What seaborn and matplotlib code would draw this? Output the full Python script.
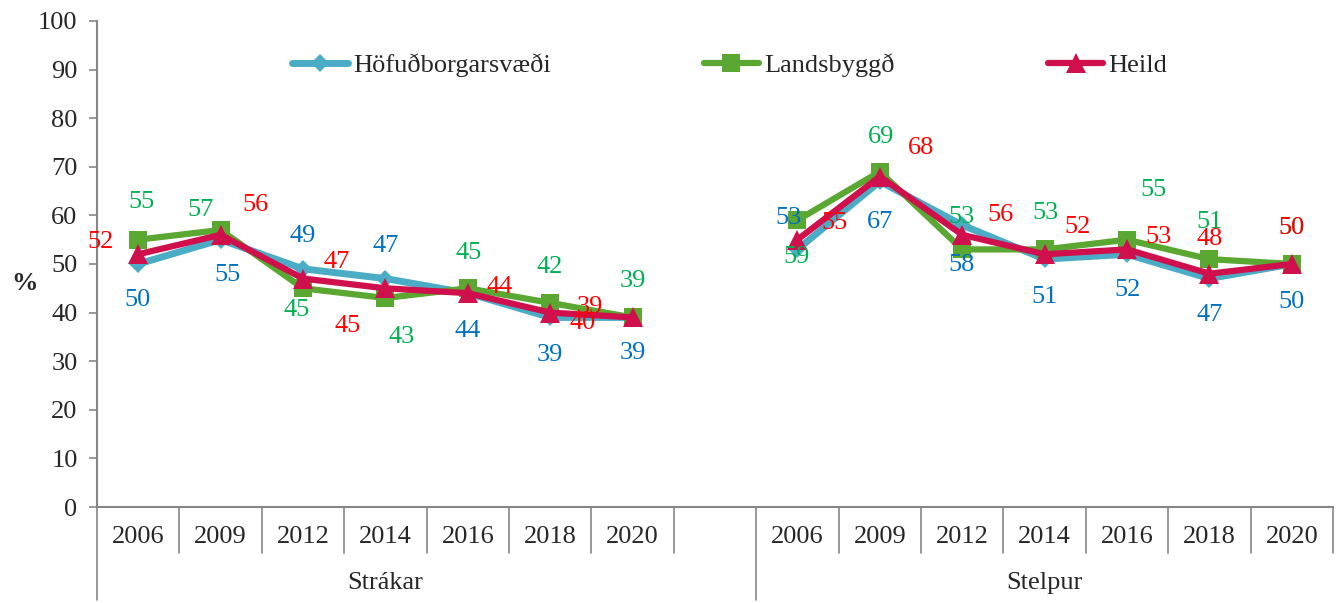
import pandas as pd
import matplotlib
matplotlib.use('Agg')
import matplotlib.pyplot as plt
import matplotlib.transforms as mtransforms
from matplotlib.lines import Line2D
import seaborn as sns

# data
years = ['2006', '2009', '2012', '2014', '2016', '2018', '2020']
groups = ['Strákar', 'Stelpur']
series = ['Höfuðborgarsvæði', 'Landsbyggð', 'Heild']

hofud_strakar = [50, 55, 49, 47, 44, 39, 39]
hofud_stelpur = [53, 67, 58, 51, 52, 47, 50]
lands_strakar = [55, 57, 45, 43, 45, 42, 39]
lands_stelpur = [59, 69, 53, 53, 55, 51, 50]
heild_strakar = [52, 56, 47, 45, 44, 40, 39]
heild_stelpur = [55, 68, 56, 52, 53, 48, 50]

values = {
    'Höfuðborgarsvæði': [hofud_strakar, hofud_stelpur],
    'Landsbyggð': [lands_strakar, lands_stelpur],
    'Heild': [heild_strakar, heild_stelpur],
}

# style
line_col = {'Höfuðborgarsvæði': '#4BACC6', 'Landsbyggð': '#5AA731', 'Heild': '#D0104C'}
text_col = {'Höfuðborgarsvæði': '#0070C0', 'Landsbyggð': '#00B050', 'Heild': '#FF0000'}
marker = {'Höfuðborgarsvæði': 'D', 'Landsbyggð': 's', 'Heild': '^'}
msize = {'Höfuðborgarsvæði': 9, 'Landsbyggð': 13, 'Heild': 14}
lwidth = {'Höfuðborgarsvæði': 5, 'Landsbyggð': 4.5, 'Heild': 4.5}

# label offsets in pixels (dx, dy), Strákar then Stelpur
label_off = {
    'Höfuðborgarsvæði': [(-1, -36), (7, -35), (0, 33), (0, 33), (0, -38), (0, -38), (0, -36),
                         (-9, 31), (0, -41), (-1, -40), (0, -38), (1, -36), (0, -36), (0, -38)],
    'Landsbyggð': [(3, 38), (-20, 20), (-6, -22), (16, -39), (1, 35), (-1, 36), (0, 36),
                   (-1, -37), (1, 35), (-1, 32), (1, 36), (26, 50), (0, 37), (0, 36)],
    'Heild': [(-38, 12), (35, 30), (34, 17), (-38, -38), (32, 6), (32, -10), (-43, 10),
              (37, 17), (41, 29), (38, 20), (33, 27), (31, 12), (0, 35), (0, 36)],
}

rows = []
for s in series:
    for gi, g in enumerate(groups):
        for yi, y in enumerate(years):
            rows.append({'series': s, 'group': g, 'year': y,
                         'pos': gi * 8 + yi, 'value': values[s][gi][yi]})
df = pd.DataFrame(rows)

sns.set_style('white')
plt.rcParams['font.family'] = ['Liberation Serif', 'DejaVu Serif']
fs = 19

fig = plt.figure(figsize=(13.38, 6.03), dpi=100)
ax = fig.add_axes([0.0725, 0.1592, 0.9963 - 0.0725, 0.9652 - 0.1592])

for s in series:
    sns.lineplot(data=df[df.series == s], x='pos', y='value', units='group',
                 estimator=None, color=line_col[s], marker=marker[s],
                 markersize=msize[s], linewidth=lwidth[s], markeredgewidth=0,
                 legend=False, ax=ax)

for s in series:
    d = df[df.series == s].reset_index(drop=True)
    for i, r in d.iterrows():
        dx, dy = label_off[s][i]
        ax.annotate(str(r['value']), (r['pos'], r['value']), xytext=(dx, dy),
                    textcoords='offset pixels', ha='center', va='center',
                    fontsize=fs, color=text_col[s], annotation_clip=False)

ax.set_xlim(-0.5, 14.5)
ax.set_ylim(0, 100)
ax.set_yticks(range(0, 101, 10))
ax.set_xticks([])
ax.set_xlabel('')
ax.set_ylabel('')
ax.tick_params(axis='y', labelsize=fs, length=6, width=1.2, color='#868686', pad=8, left=True)
for sp in ['top', 'right']:
    ax.spines[sp].set_visible(False)
for sp in ['left', 'bottom']:
    ax.spines[sp].set_color('#868686')
    ax.spines[sp].set_linewidth(1.5)

fig.text(25 / 1338, 1 - 283 / 603, '%', fontsize=fs, fontweight='bold',
         ha='center', va='center')

# multi-level category axis
trans = mtransforms.blended_transform_factory(ax.transData, ax.transAxes)
row1_y, row1_bot, row2_y, row2_bot = -0.0617, -0.0947, -0.156, -0.191
for gi, g in enumerate(groups):
    for yi, y in enumerate(years):
        ax.text(gi * 8 + yi, row1_y, y, transform=trans, ha='center', va='center', fontsize=fs)
    ax.text(gi * 8 + 3, row2_y, g, transform=trans, ha='center', va='center', fontsize=fs)
for b in range(16):
    xb = b - 0.5
    bot = row2_bot if b in (0, 8) else row1_bot
    ax.plot([xb, xb], [0, bot], transform=trans, color='#868686', lw=1.2, clip_on=False)

handles = [Line2D([], [], color=line_col[s], marker=marker[s], markersize=msize[s],
                  linewidth=lwidth[s], markeredgewidth=0) for s in series]
ax.legend(handles, series, loc='center', bbox_to_anchor=(0.512, 0.909), ncol=3,
          frameon=False, fontsize=fs, handlelength=2.1, handletextpad=0.2,
          columnspacing=5.8)

fig.savefig('out.png', dpi=100)
